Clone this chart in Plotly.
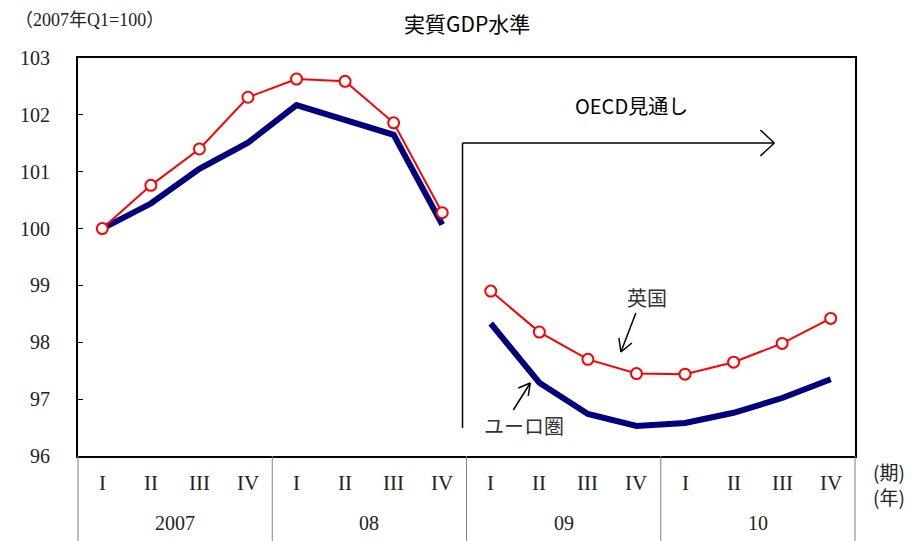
import plotly.graph_objects as go

quarters = ["I", "II", "III", "IV"] * 4
years = ["2007", "08", "09", "10"]
uk = [100.0, 100.76, 101.40, 102.31, 102.63, 102.59, 101.86, 100.28,
      98.90, 98.18, 97.70, 97.45, 97.44, 97.65, 97.98, 98.42]
euro = [100.0, 100.44, 101.05, 101.51, 102.17, 101.92, 101.65, 100.07,
        98.33, 97.29, 96.74, 96.53, 96.58, 96.76, 97.02, 97.35]
yticks = [96, 97, 98, 99, 100, 101, 102, 103]

# page body has an 8px margin; compensate so the plot lands where the reference has it
OFF = 8
W, H = 924 - OFF, 541 - OFF
L, R, T, B = 75, 855, 58, 456

def px(x):
    return (x - L) / (R - L)

def py(y):
    return (B - y) / (B - T)

SERIF = "Liberation Serif, DejaVu Serif, serif"
CJK = "Noto Sans CJK JP, sans-serif"

fig = go.Figure()
idx = list(range(16))
for seg in (slice(0, 8), slice(8, 16)):
    fig.add_trace(go.Scatter(x=idx[seg], y=euro[seg], mode="lines",
                             line=dict(color="#00007f", width=6), hoverinfo="skip"))
for seg in (slice(0, 8), slice(8, 16)):
    fig.add_trace(go.Scatter(x=idx[seg], y=uk[seg], mode="lines+markers",
                             line=dict(color="#ff0000", width=2),
                             marker=dict(symbol="circle", size=11, color="white",
                                         line=dict(color="#ff0000", width=2)),
                             hoverinfo="skip"))

shapes = []
for i in range(5):
    shapes.append(dict(type="line", xref="paper", yref="paper", x0=i * 0.25, x1=i * 0.25,
                       y0=0, y1=py(541), line=dict(color="#808080", width=1)))

def seg_line(x0, y0, x1, y1, w=1.5):
    shapes.append(dict(type="line", xref="paper", yref="paper",
                       x0=px(x0), y0=py(y0), x1=px(x1), y1=py(y1),
                       line=dict(color="black", width=w)))

# OECD forecast arrow
seg_line(461, 428, 461, 143)
seg_line(461, 143, 774, 143)
seg_line(760, 130, 774, 143)
seg_line(760, 156, 774, 143)
# UK arrow
seg_line(635, 313, 620, 352)
seg_line(620, 352, 631, 343)
seg_line(620, 352, 618, 338)
# Euro arrow
seg_line(512, 410, 529, 383)
seg_line(529, 383, 517, 388)
seg_line(529, 383, 527, 396)

annotations = []
for i, q in enumerate(quarters):
    annotations.append(dict(x=i, y=py(483), xref="x", yref="paper", text=q, showarrow=False,
                            font=dict(family=SERIF, size=21, color="#222"),
                            xanchor="center", yanchor="middle"))
for j, yr in enumerate(years):
    annotations.append(dict(x=0.125 + 0.25 * j, y=py(523), xref="paper", yref="paper", text=yr,
                            showarrow=False, font=dict(family=SERIF, size=20, color="#222"),
                            xanchor="center", yanchor="middle"))
annotations += [
    dict(x=px(889), y=py(471), xref="paper", yref="paper", text="(期)", showarrow=False,
         font=dict(family=CJK, size=19, color="#222"), xanchor="center", yanchor="middle"),
    dict(x=px(889), y=py(496), xref="paper", yref="paper", text="(年)", showarrow=False,
         font=dict(family=CJK, size=19, color="#222"), xanchor="center", yanchor="middle"),
    dict(x=px(10), y=py(OFF), xref="paper", yref="paper", text="（2007年Q1=100）", showarrow=False,
         font=dict(family=SERIF + ", Noto Sans CJK JP", size=18, color="#222"),
         xanchor="left", yanchor="top"),
    dict(x=px(465), y=py(23), xref="paper", yref="paper", text="実質GDP水準", showarrow=False,
         font=dict(family=CJK, size=21, color="black"), xanchor="center", yanchor="middle"),
    dict(x=px(631), y=py(106), xref="paper", yref="paper", text="OECD見通し", showarrow=False,
         font=dict(family=CJK, size=20, color="black"), xanchor="center", yanchor="middle"),
    dict(x=px(646), y=py(297), xref="paper", yref="paper", text="英国", showarrow=False,
         font=dict(family=CJK, size=20, color="#333"), xanchor="center", yanchor="middle"),
    dict(x=px(523), y=py(425), xref="paper", yref="paper", text="ユーロ圏", showarrow=False,
         font=dict(family=CJK, size=20, color="#333"), xanchor="center", yanchor="middle"),
]

fig.update_layout(
    width=W, height=H,
    margin=dict(l=L - OFF, r=W - (R - OFF), t=T - OFF, b=H - (B - OFF)),
    plot_bgcolor="white", paper_bgcolor="white", showlegend=False,
    shapes=shapes, annotations=annotations,
    xaxis=dict(range=[-0.5, 15.5], showticklabels=False, ticks="", showgrid=False,
               zeroline=False, showline=True, linecolor="black", linewidth=2, mirror=True),
    yaxis=dict(range=[96, 103], tickvals=yticks, ticks="inside", ticklen=5, tickcolor="black",
               showgrid=False, zeroline=False, showline=True, linecolor="black", linewidth=2,
               mirror=True, ticklabelstandoff=22,
               tickfont=dict(family=SERIF, size=20, color="#222")),
)
fig.write_html("out.html")
